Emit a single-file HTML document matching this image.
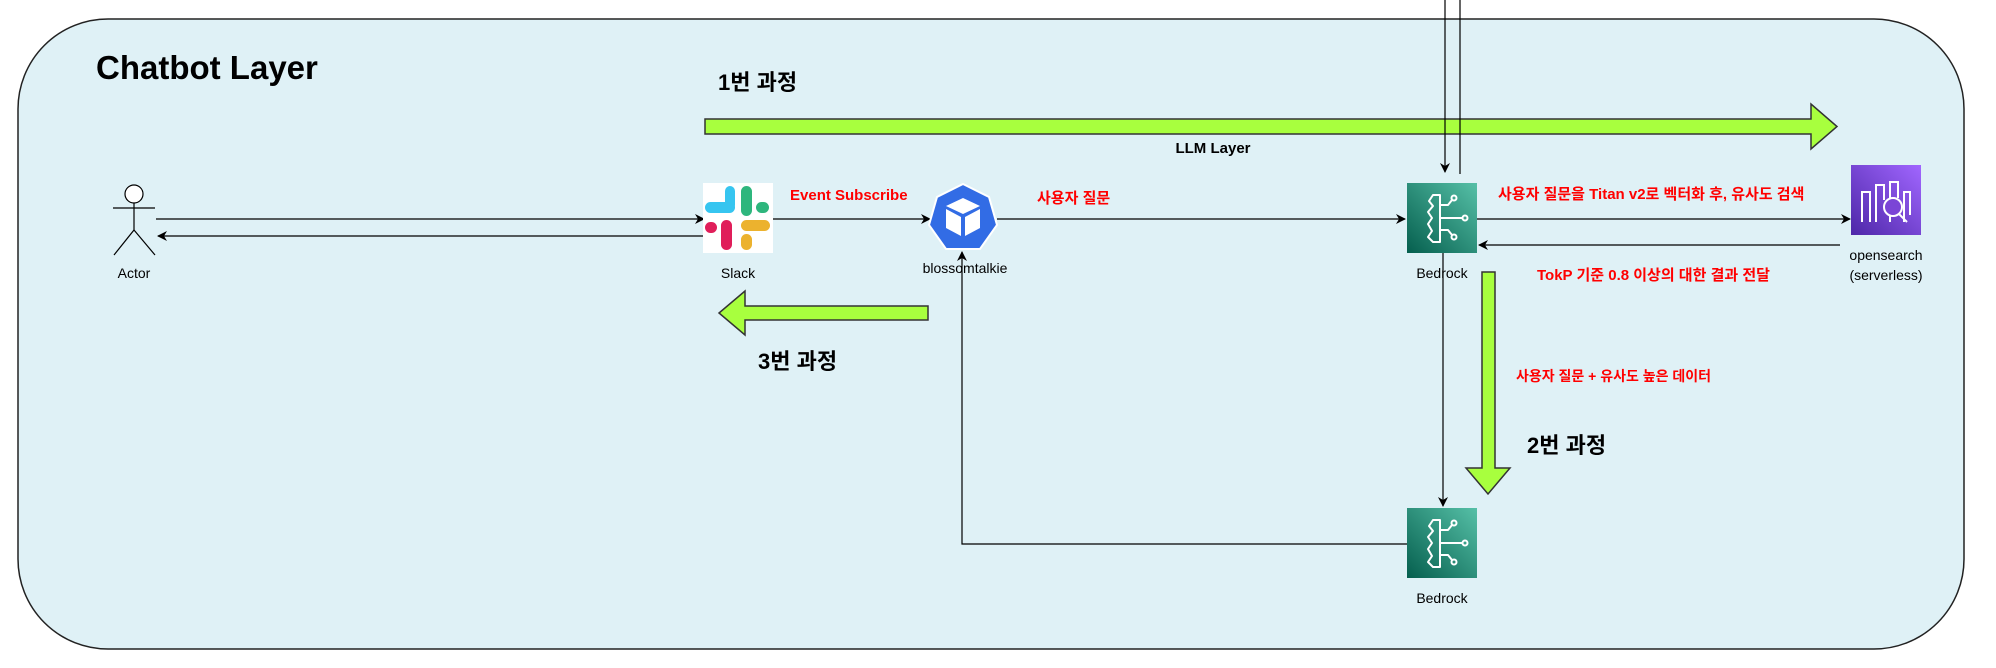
<!DOCTYPE html>
<html><head><meta charset="utf-8"><style>
html,body{margin:0;padding:0;background:#fff;}
svg{display:block;}
text{font-family:"Liberation Sans","Noto Sans CJK KR",sans-serif;}
</style></head><body>
<svg width="1996" height="668" viewBox="0 0 1996 668" xmlns="http://www.w3.org/2000/svg">
<defs>
<linearGradient id="bg" x1="0" y1="1" x2="1" y2="0"><stop offset="0" stop-color="#055f4e"/><stop offset="1" stop-color="#56c0a7"/></linearGradient>
<linearGradient id="og" x1="0" y1="1" x2="1" y2="0"><stop offset="0" stop-color="#4d27a8"/><stop offset="1" stop-color="#a166ff"/></linearGradient>
<marker id="ah" markerWidth="10" markerHeight="10" refX="9" refY="5" orient="auto" markerUnits="userSpaceOnUse"><path d="M0,0 L10,5 L0,10 L3,5 Z" fill="#000"/></marker>
</defs>
<rect x="18" y="19" width="1946" height="630" rx="90" ry="90" fill="#dff1f6" stroke="#222" stroke-width="1.5"/>
<text x="96" y="79" font-size="33" font-weight="bold" fill="#000">Chatbot Layer</text>
<text x="718" y="90" font-size="22" font-weight="bold" fill="#000">1번 과정</text>
<polygon points="705,119 1811,119 1811,104 1837,126.5 1811,149 1811,134 705,134" fill="#a8ff3e" stroke="#333" stroke-width="1.5"/>
<text x="1213" y="153" font-size="15" font-weight="bold" text-anchor="middle">LLM Layer</text>
<line x1="1445" y1="0" x2="1445" y2="172" stroke="#000" stroke-width="1.2" marker-end="url(#ah)"/>
<line x1="1460" y1="0" x2="1460" y2="174" stroke="#000" stroke-width="1.2"/>
<g stroke="#000" stroke-width="1.2" fill="none">
<circle cx="134" cy="194" r="9" fill="#fff"/>
<line x1="134" y1="203" x2="134" y2="230"/>
<line x1="113" y1="208" x2="155" y2="208"/>
<line x1="134" y1="230" x2="114" y2="255"/>
<line x1="134" y1="230" x2="155" y2="255"/>
</g>
<text x="134" y="278" font-size="14" text-anchor="middle">Actor</text>
<line x1="156" y1="219" x2="704" y2="219" stroke="#000" stroke-width="1.2" marker-end="url(#ah)"/>
<line x1="704" y1="236" x2="158" y2="236" stroke="#000" stroke-width="1.2" marker-end="url(#ah)"/>
<rect x="703" y="183" width="70" height="70" fill="#fff"/>
<g>
<rect x="725" y="186" width="10" height="24" rx="5" fill="#36c5f0"/>
<rect x="705" y="202" width="30" height="11" rx="5.5" fill="#36c5f0"/>
<rect x="741" y="186" width="11" height="30" rx="5.5" fill="#2eb67d"/>
<rect x="756" y="202" width="13" height="11" rx="5.5" fill="#2eb67d"/>
<rect x="705" y="222" width="12" height="11" rx="5.5" fill="#e01e5a"/>
<rect x="721" y="220" width="11" height="30" rx="5.5" fill="#e01e5a"/>
<rect x="741" y="220" width="29" height="11" rx="5.5" fill="#ecb22e"/>
<rect x="741" y="234" width="11" height="16" rx="5.5" fill="#ecb22e"/>
</g>
<text x="738" y="278" font-size="14" text-anchor="middle">Slack</text>
<text x="790" y="200" font-size="15" font-weight="bold" fill="#ff0000">Event Subscribe</text>
<line x1="773" y1="219" x2="930" y2="219" stroke="#000" stroke-width="1.2" marker-end="url(#ah)"/>
<polygon points="963,184 989,197 997,225 980,249 946,249 929,225 937,197" fill="#326ce5" stroke="#fff" stroke-width="2"/>
<polygon points="963,198 980,206 963,214 946,206" fill="#fff"/>
<polygon points="946,209 961,217 961,236 946,228" fill="#fff"/>
<polygon points="980,209 965,217 965,236 980,228" fill="#fff"/>
<text x="965" y="273" font-size="14" text-anchor="middle">blossomtalkie</text>
<text x="1037" y="203" font-size="15" font-weight="bold" fill="#ff0000">사용자 질문</text>
<line x1="997" y1="219" x2="1405" y2="219" stroke="#000" stroke-width="1.2" marker-end="url(#ah)"/>
<g id="br">
<rect x="1407" y="183" width="70" height="70" fill="url(#bg)"/>
<g stroke="#fff" stroke-width="2" fill="none" stroke-linejoin="round">
<path d="M1440,195 L1433,195 L1429,201 L1433,206 L1428,212 L1432,218 L1428,224 L1432,231 L1428,237 L1433,242 L1440,242 Z"/>
<path d="M1440,205 L1448,205 L1452,200"/><circle cx="1454" cy="198" r="2.5"/>
<path d="M1440,218 L1462,218"/><circle cx="1465" cy="218" r="2.5"/>
<path d="M1440,230 L1448,230 L1452,235"/><circle cx="1454" cy="237" r="2.5"/>
</g>
</g>
<text x="1442" y="278" font-size="14" text-anchor="middle">Bedrock</text>
<text x="1498" y="199" font-size="15" font-weight="bold" fill="#ff0000">사용자 질문을 Titan v2로 벡터화 후, 유사도 검색</text>
<line x1="1477" y1="219" x2="1850" y2="219" stroke="#000" stroke-width="1.2" marker-end="url(#ah)"/>
<line x1="1840" y1="245" x2="1479" y2="245" stroke="#000" stroke-width="1.2" marker-end="url(#ah)"/>
<text x="1537" y="280" font-size="15" font-weight="bold" fill="#ff0000">TokP 기준 0.8 이상의 대한 결과 전달</text>
<rect x="1851" y="165" width="70" height="70" fill="url(#og)"/>
<g stroke="#fff" stroke-width="2" fill="none">
<path d="M1862,222 L1862,192 L1870,192 L1870,222 M1876,222 L1876,185 L1884,185 L1884,200 M1890,222 L1890,182 L1898,182 L1898,198 M1904,222 L1904,192 L1910,192 L1910,215"/>
<circle cx="1893" cy="207" r="9" fill="#7b45d6"/>
<line x1="1899" y1="214" x2="1907" y2="222"/>
</g>
<text x="1886" y="260" font-size="14" text-anchor="middle">opensearch</text>
<text x="1886" y="280" font-size="14" text-anchor="middle">(serverless)</text>
<polygon points="928,306 745,306 745,291 719,313 745,335 745,320 928,320" fill="#a8ff3e" stroke="#333" stroke-width="1.5"/>
<text x="758" y="369" font-size="22" font-weight="bold">3번 과정</text>
<polyline points="1407,544 962,544 962,252" fill="none" stroke="#000" stroke-width="1.2" marker-end="url(#ah)"/>
<line x1="1443" y1="253" x2="1443" y2="506" stroke="#000" stroke-width="1.2" marker-end="url(#ah)"/>
<polygon points="1482,272 1495,272 1495,468 1510,468 1488,494 1466,468 1482,468" fill="#a8ff3e" stroke="#333" stroke-width="1.5"/>
<text x="1516" y="381" font-size="14" font-weight="bold" fill="#ff0000">사용자 질문 + 유사도 높은 데이터</text>
<text x="1527" y="453" font-size="22" font-weight="bold">2번 과정</text>
<use href="#br" transform="translate(0,325)"/>
<text x="1442" y="603" font-size="14" text-anchor="middle">Bedrock</text>
</svg>
</body></html>
